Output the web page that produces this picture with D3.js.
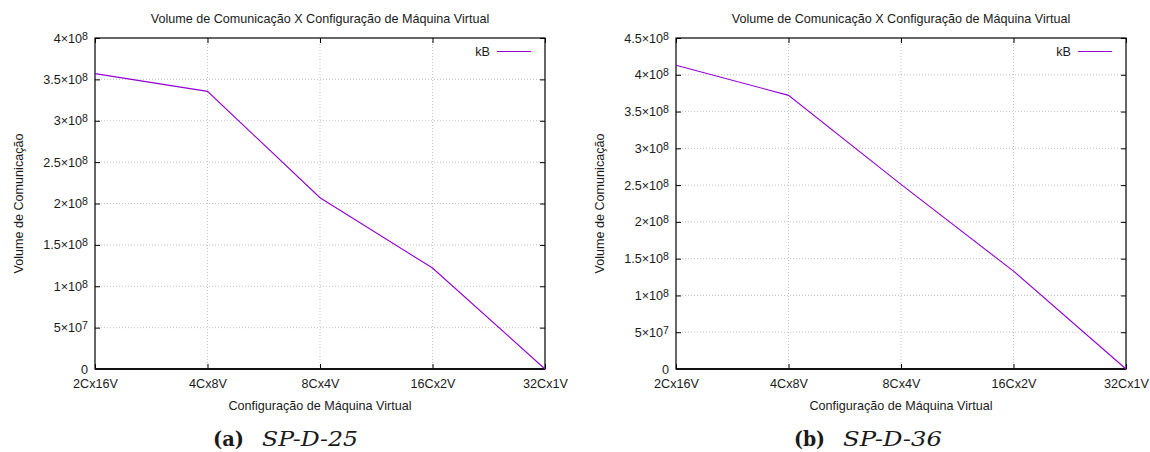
<!DOCTYPE html>
<html>
<head>
<meta charset="utf-8">
<script src="https://cdn.jsdelivr.net/npm/d3@7"></script>
<style>
  body { margin: 0; background: #fff; }
  svg { display: block; }
  text { font-family: "Liberation Sans", Arial, sans-serif; fill: #1a1a1a; }
</style>
</head>
<body>
<svg id="chart" width="1150" height="452"></svg>
<script>
// Communication volume (kB) per virtual machine configuration
const categories = ["2Cx16V", "4Cx8V", "8Cx4V", "16Cx2V", "32Cx1V"];
const volumeSP25 = [3.57e8, 3.355e8, 2.07e8, 1.22e8, 0];
const volumeSP36 = [4.13e8, 3.72e8, 2.51e8, 1.33e8, 0];

const yTicksSP25 = [0, 5e7, 1e8, 1.5e8, 2e8, 2.5e8, 3e8, 3.5e8, 4e8];
const yTicksSP36 = [0, 5e7, 1e8, 1.5e8, 2e8, 2.5e8, 3e8, 3.5e8, 4e8, 4.5e8];

const chartTitle = "Volume de Comunicação X Configuração de Máquina Virtual";
const yAxisLabel = "Volume de Comunicação";
const xAxisLabel = "Configuração de Máquina Virtual";
const seriesName = "kB";
const captionTags = ["(a)", "(b)"];
const captionNames = ["SP-D-25", "SP-D-36"];

const svg = d3.select("#chart");
const lineColor = "#9400d3";
const fontSize = 12.6;

// tick label like 3.5×10^8 with a raised exponent
function sciLabel(sel) {
  sel.each(function (d) {
    const t = d3.select(this);
    t.text(null);
    if (d === 0) { t.text("0"); return; }
    const e = Math.floor(Math.log10(d));
    const m = +(d / Math.pow(10, e)).toFixed(2);
    t.append("tspan").text(m + "×10");
    t.append("tspan").attr("font-size", "10.6px").attr("dy", -3).text(e);
  });
}

function drawPanel(opts) {
  const { x0, x1, y0, y1, values, yTicks, tag, name, tagWidth, nameWidth } = opts;
  const g = svg.append("g");

  const x = d3.scalePoint().domain(categories).range([x0, x1]).padding(0);
  const y = d3.scaleLinear().domain([0, d3.max(yTicks)]).range([y1, y0]);

  // dotted grid
  const grid = g.append("g")
    .attr("stroke", "#b4b4b4").attr("stroke-width", 0.8)
    .attr("stroke-dasharray", "1,2");
  grid.selectAll("line.h").data(yTicks.slice(1, -1)).join("line")
    .attr("x1", x0).attr("x2", x1)
    .attr("y1", d => y(d)).attr("y2", d => y(d));
  grid.selectAll("line.v").data(categories.slice(1, -1)).join("line")
    .attr("class", "v")
    .attr("x1", d => x(d)).attr("x2", d => x(d))
    .attr("y1", y0).attr("y2", y1);

  // axes with inward ticks, mirrored on top and right
  const left = g.append("g").attr("transform", `translate(${x0},0)`)
    .call(d3.axisLeft(y).tickValues(yTicks).tickSize(-5).tickPadding(7));
  left.selectAll("text").attr("font-size", fontSize + "px").call(sciLabel);

  const bottom = g.append("g").attr("transform", `translate(0,${y1})`)
    .call(d3.axisBottom(x).tickSize(-5).tickPadding(10));
  bottom.selectAll("text").attr("font-size", fontSize + "px");

  g.append("g").attr("transform", `translate(0,${y0})`)
    .call(d3.axisTop(x).tickSize(-5).tickFormat(""));
  g.append("g").attr("transform", `translate(${x1},0)`)
    .call(d3.axisRight(y).tickValues(yTicks).tickSize(-5).tickFormat(""));

  g.selectAll(".domain").remove();
  g.selectAll(".tick line").attr("stroke", "#000").attr("stroke-width", 1);
  g.selectAll(".tick text").attr("fill", "#1a1a1a").attr("font-family", "Liberation Sans, Arial, sans-serif");

  // plot border
  g.append("rect")
    .attr("x", x0).attr("y", y0).attr("width", x1 - x0).attr("height", y1 - y0)
    .attr("fill", "none").attr("stroke", "#000").attr("stroke-width", 1.2);
  g.append("line")
    .attr("x1", x0).attr("x2", x1).attr("y1", y1).attr("y2", y1)
    .attr("stroke", "#111").attr("stroke-width", 2);

  // data line
  const line = d3.line().x((d, i) => x(categories[i])).y(d => y(d));
  g.append("path").datum(values)
    .attr("d", line).attr("fill", "none")
    .attr("stroke", lineColor).attr("stroke-width", 1.1);

  // legend
  g.append("text").attr("x", x1 - 55).attr("y", 56)
    .attr("text-anchor", "end").attr("font-size", fontSize + "px").text(seriesName);
  g.append("line")
    .attr("x1", x1 - 48).attr("x2", x1 - 14).attr("y1", 51.5).attr("y2", 51.5)
    .attr("stroke", lineColor).attr("stroke-width", 1.1);

  // titles
  const cx = (x0 + x1) / 2;
  g.append("text").attr("x", cx).attr("y", 22.5).attr("text-anchor", "middle")
    .attr("font-size", fontSize + "px").text(chartTitle);
  g.append("text").attr("x", cx).attr("y", 410).attr("text-anchor", "middle")
    .attr("font-size", fontSize + "px").text(xAxisLabel);
  g.append("text")
    .attr("transform", `translate(${x0 - 72.5},${(y0 + y1) / 2}) rotate(-90)`)
    .attr("text-anchor", "middle").attr("font-size", fontSize + "px").text(yAxisLabel);

  // subfigure caption
  g.append("text").attr("x", x0 + 118).attr("y", 446)
    .attr("font-weight", "bold")
    .attr("font-size", "20px").attr("fill", "#000")
    .attr("textLength", tagWidth).attr("lengthAdjust", "spacingAndGlyphs")
    .style("font-family", "'DejaVu Serif', serif").text(tag);
  g.append("text").attr("x", x0 + 167).attr("y", 446)
    .attr("font-style", "italic").attr("font-size", "20px").attr("fill", "#000")
    .attr("textLength", nameWidth).attr("lengthAdjust", "spacingAndGlyphs")
    .style("font-family", "'DejaVu Serif', serif").text(name);
}

drawPanel({ x0: 95, x1: 545, y0: 38, y1: 369, values: volumeSP25, yTicks: yTicksSP25,
  tag: captionTags[0], name: captionNames[0], tagWidth: 31, nameWidth: 96 });
drawPanel({ x0: 676, x1: 1126, y0: 38, y1: 369, values: volumeSP36, yTicks: yTicksSP36,
  tag: captionTags[1], name: captionNames[1], tagWidth: 31, nameWidth: 99 });
</script>
</body>
</html>
